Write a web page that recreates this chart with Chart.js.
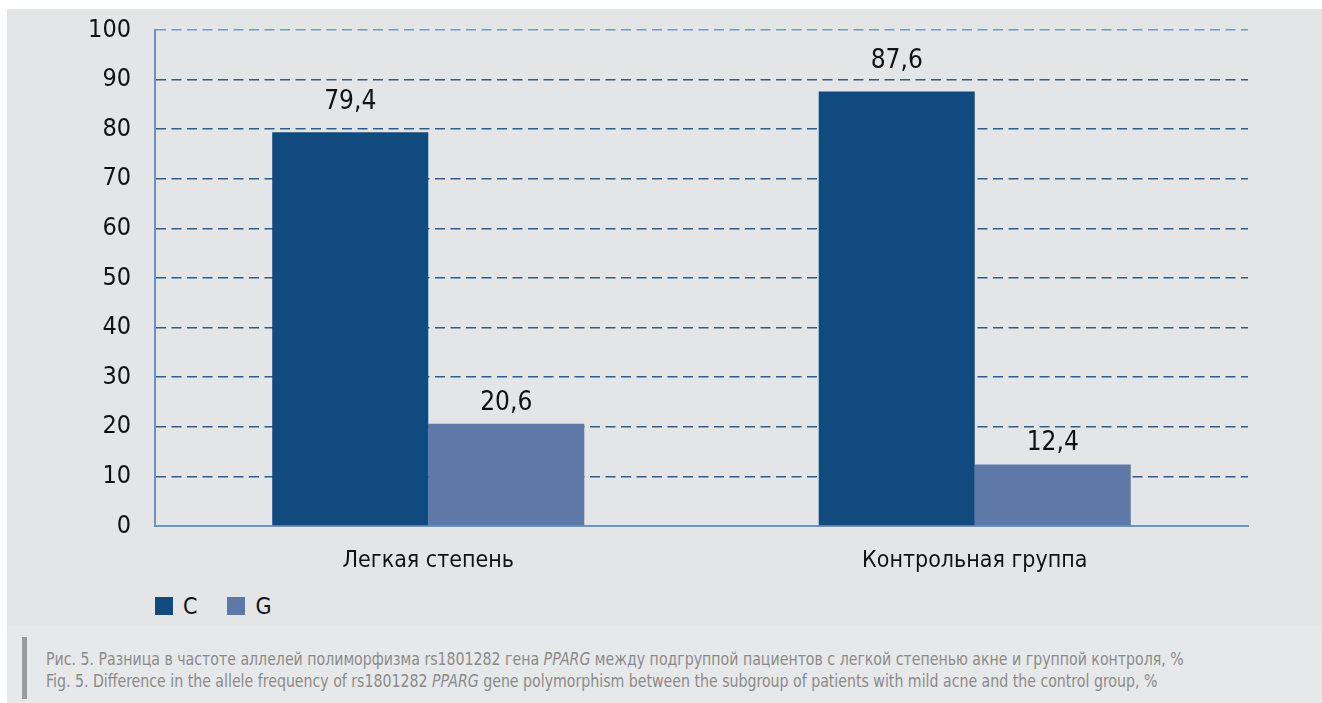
<!DOCTYPE html>
<html>
<head>
<meta charset="utf-8">
<script src="https://cdn.jsdelivr.net/npm/chart.js@4/dist/chart.umd.min.js"></script>
<style>
  body { margin: 0; width: 1322px; height: 703px; background: #fff; position: relative; overflow: hidden;
         font-family: "Liberation Sans Narrow", "DejaVu Sans Condensed", sans-serif; }
  #panel { position: absolute; left: 7px; top: 9px; width: 1315px; height: 617px; background: #e4e5e7; }
  #lower { position: absolute; left: 7px; top: 626px; width: 1315px; height: 77px; background: #e7e8e9; }
  #wrap { position: absolute; left: 0; top: 0; width: 1315px; height: 580px; }
  #legend { position: absolute; left: 148px; top: 584px; display: flex; font-size: 23px; color: #111; }
  .item { display: flex; align-items: center; margin-right: 30px; }
  .box { width: 18px; height: 18px; margin-right: 10px; }
  #bar { position: absolute; left: 15px; top: 11px; width: 5px; height: 62px; background: #9b9b9b; }
  #caption { position: absolute; left: 39px; top: 22px; font-size: 17px; line-height: 22px; color: #8b8b8b;
             white-space: nowrap; transform: scaleX(0.925); transform-origin: left top; }
</style>
</head>
<body>
<div id="panel">
  <div id="wrap"><canvas id="chart"></canvas></div>
  <div id="legend"></div>
</div>
<div id="lower">
  <div id="bar"></div>
  <div id="caption">
    Рис. 5. Разница в частоте аллелей полиморфизма rs1801282 гена <i>PPARG</i> между подгруппой пациентов с легкой степенью акне и группой контроля, %<br>
    Fig. 5. Difference in the allele frequency of rs1801282 <i>PPARG</i> gene polymorphism between the subgroup of patients with mild acne and the control group, %
  </div>
</div>
<script>
// Data
const categories = ['Легкая степень', 'Контрольная группа'];
const seriesNames = ['C', 'G'];
const valuesC = [79.4, 87.6];
const valuesG = [20.6, 12.4];
const yTicks = [0, 10, 20, 30, 40, 50, 60, 70, 80, 90, 100];

const colors = ['#114a7e', '#5e79a8'];
const labelOffsets = [30, 21]; // gap between bar top and its value label, per series
const fontFamily = '"Liberation Sans Narrow", "DejaVu Sans Condensed", sans-serif';

// HTML legend
const legend = document.getElementById('legend');
seriesNames.forEach((name, i) => {
    const item = document.createElement('div');
    item.className = 'item';
    item.innerHTML = `<span class="box" style="background:${colors[i]}"></span><span>${name}</span>`;
    legend.appendChild(item);
});

// Value labels above bars
const valueLabels = {
    id: 'valueLabels',
    afterDatasetsDraw(chart) {
        const ctx = chart.ctx;
        ctx.save();
        ctx.font = '26px ' + fontFamily;
        ctx.fillStyle = '#111';
        ctx.textAlign = 'center';
        ctx.textBaseline = 'middle';
        chart.data.datasets.forEach((ds, i) => {
            chart.getDatasetMeta(i).data.forEach((bar, j) => {
                const text = String(ds.data[j]).replace('.', ',');
                ctx.fillText(text, bar.x, bar.y - labelOffsets[i]);
            });
        });
        ctx.restore();
    }
};

new Chart(document.getElementById('chart'), {
    type: 'bar',
    data: {
        labels: categories,
        datasets: [
            { label: seriesNames[0], data: valuesC, backgroundColor: colors[0] },
            { label: seriesNames[1], data: valuesG, backgroundColor: colors[1] }
        ]
    },
    options: {
        responsive: true,
        maintainAspectRatio: false,
        animation: false,
        categoryPercentage: 0.571,
        barPercentage: 1,
        layout: { padding: { top: 21, right: 74, left: 0, bottom: 0 } },
        plugins: {
            legend: { display: false },
            tooltip: { enabled: false }
        },
        scales: {
            x: {
                grid: { display: false },
                border: { display: true, color: '#6d92bb', width: 2 },
                ticks: { color: '#111', font: { family: fontFamily, size: 23 }, padding: 13 },
                afterFit: (scale) => { scale.height = 63; }
            },
            y: {
                min: 0,
                max: 100,
                afterBuildTicks: (scale) => { scale.ticks = yTicks.map(v => ({ value: v })); },
                grid: {
                    drawTicks: false,
                    lineWidth: 1.6,
                    color: (c) => c.tick && c.tick.value === 100 ? '#7499c0' : '#2e5c8c'
                },
                border: { display: true, color: '#6d92bb', width: 2, dash: [10, 5.5] },
                ticks: { color: '#111', font: { family: fontFamily, size: 25 }, padding: 24 },
                afterFit: (scale) => {
                    scale.width = 148;
                    scale.paddingTop = 0;
                    scale.paddingBottom = 0;
                }
            }
        }
    },
    plugins: [valueLabels]
});
</script>
</body>
</html>
